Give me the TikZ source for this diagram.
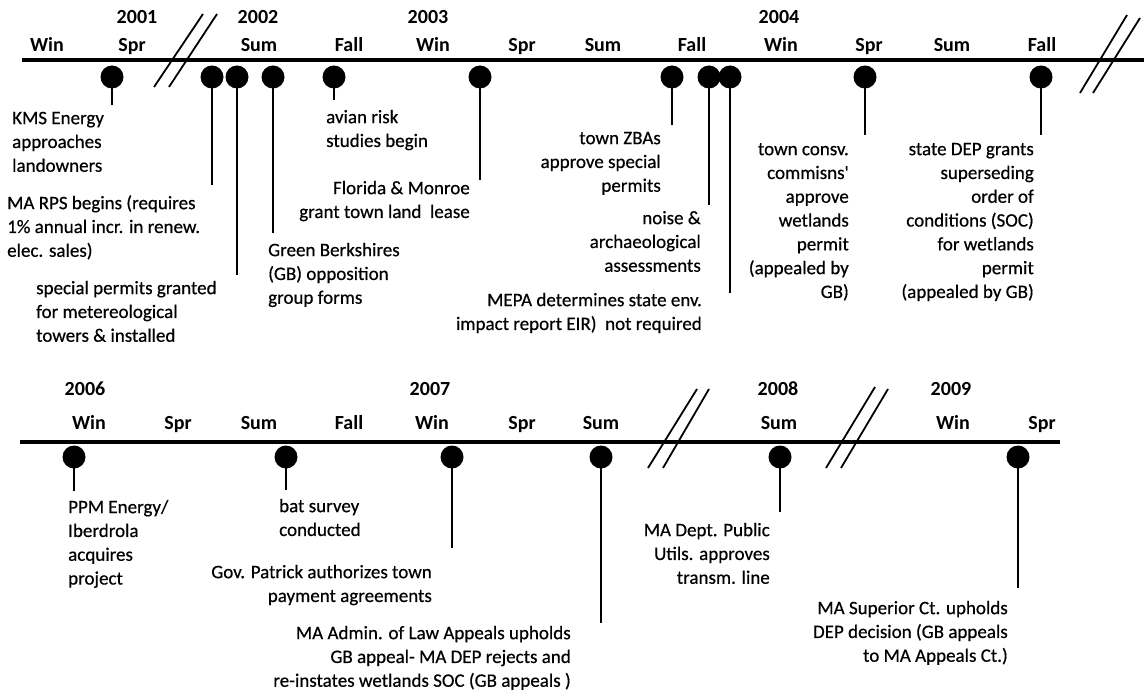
\documentclass[tikz,border=0pt]{standalone}
\usepackage{fontspec}
\setmainfont{Carlito}
\newfontfamily\bodyfont[FakeBold=0.5]{Carlito}
\begin{document}
\begin{tikzpicture}[x=1pt,y=-1pt,
  axis/.style={line width=4pt},
  brk/.style={line width=1.8pt},
  dot/.style={circle,fill=black,minimum size=23pt,inner sep=0pt},
  stem/.style={line width=2pt},
  hdr/.style={font=\bfseries\fontsize{20}{24}\selectfont,anchor=base,inner sep=0pt},
  lbl/.style={font=\bodyfont\fontsize{19}{23.8}\selectfont,inner sep=0pt},
  lblL/.style={lbl,align=left,anchor=north west},
  lblR/.style={lbl,align=right,anchor=north east},
]
\def\off{10.7}
\def\hb{6.4}
\useasboundingbox[fill=white] (0,0) rectangle (1144,698);

% ---------------- top timeline ----------------
\coordinate (ta) at (22,60);
\coordinate (tb) at (1144,60);
\draw[axis] (ta) -- (tb);

% break marks
\coordinate (k1a) at (154,87); \coordinate (k1b) at (203,14);
\coordinate (k2a) at (169,87); \coordinate (k2b) at (217,14);
\coordinate (k3a) at (1080,93); \coordinate (k3b) at (1127,15);
\coordinate (k4a) at (1093,93); \coordinate (k4b) at (1140,18);
\draw[brk] (k1a) -- (k1b);
\draw[brk] (k2a) -- (k2b);
\draw[brk] (k3a) -- (k3b);
\draw[brk] (k4a) -- (k4b);

% years
\node[hdr] (y2001) at (137,{17+\hb}) {2001};
\node[hdr] (y2002) at (258,{17+\hb}) {2002};
\node[hdr] (y2003) at (428,{17+\hb}) {2003};
\node[hdr] (y2004) at (779,{17+\hb}) {2004};
% seasons
\node[hdr] (s1) at (47,{45+\hb}) {Win};
\node[hdr] (s2) at (132,{45+\hb}) {Spr};
\node[hdr] (s3) at (259,{45+\hb}) {Sum};
\node[hdr] (s4) at (349,{45+\hb}) {Fall};
\node[hdr] (s5) at (433,{45+\hb}) {Win};
\node[hdr] (s6) at (522,{45+\hb}) {Spr};
\node[hdr] (s7) at (603,{45+\hb}) {Sum};
\node[hdr] (s8) at (692,{45+\hb}) {Fall};
\node[hdr] (s9) at (781,{45+\hb}) {Win};
\node[hdr] (s10) at (869,{45+\hb}) {Spr};
\node[hdr] (s11) at (952,{45+\hb}) {Sum};
\node[hdr] (s12) at (1042,{45+\hb}) {Fall};

% dots
\node[dot] (d1) at (112,77) {};
\node[dot] (d2) at (212,77) {};
\node[dot] (d3) at (237,77) {};
\node[dot] (d4) at (273,77) {};
\node[dot] (d5) at (334,77) {};
\node[dot] (d6) at (480,77) {};
\node[dot] (d7) at (672,77) {};
\node[dot] (d8) at (709,77) {};
\node[dot] (d9) at (730,77) {};
\node[dot] (d10) at (865,77) {};
\node[dot] (d11) at (1041,77) {};

% stem ends
\coordinate (e1) at (112,105);
\coordinate (e2) at (212,185);
\coordinate (e3) at (237,275);
\coordinate (e4) at (273,233);
\coordinate (e5) at (334,100);
\coordinate (e6) at (480,180);
\coordinate (e7) at (672,125);
\coordinate (e8) at (709,205);
\coordinate (e9) at (730,293);
\coordinate (e10) at (865,135);
\coordinate (e11) at (1041,135);
\foreach \i in {1,...,11} {\draw[stem] (d\i.center) -- (e\i);}

% labels
\node[lblL] (t1) at (12,{118-\off}) {\strut KMS Energy\\approaches\\landowners};
\node[lblL] (t2) at (7,{203-\off}) {\strut MA RPS begins (requires\\1\% annual incr. in renew.\\elec. sales)};
\node[lblL] (t3) at (36,{288-\off}) {\strut special permits granted\\for metereological\\towers \& installed};
\node[lblL] (t4) at (268,{250-\off}) {\strut Green Berkshires\\(GB) opposition\\group forms};
\node[lblL] (t5) at (326,{117-\off}) {\strut avian risk\\studies begin};
\node[lblR] (t6) at (470,{188-\off}) {\strut Florida \& Monroe\\grant town land\ \ lease};
\node[lblR] (t7) at (661,{138-\off}) {\strut town ZBAs\\approve special\\permits};
\node[lblR] (t8) at (701,{218-\off}) {\strut noise \&\\archaeological\\assessments};
\node[lblR] (t9) at (702,{300-\off}) {\strut MEPA determines state env.\\impact report EIR)\ \ not required};
\node[lblR] (t10) at (849,{149-\off}) {\strut town consv.\\commisns\textquotesingle\\approve\\wetlands\\permit\\(appealed by\\GB)};
\node[lblR] (t11) at (1034,{149-\off}) {\strut state DEP grants\\superseding\\order of\\conditions (SOC)\\for wetlands\\permit\\(appealed by GB)};

% ---------------- bottom timeline ----------------
\coordinate (ba) at (20,442);
\coordinate (bb) at (1060,442);
\draw[axis] (ba) -- (bb);

\coordinate (k5a) at (648,468); \coordinate (k5b) at (697,389);
\coordinate (k6a) at (663,468); \coordinate (k6b) at (709,389);
\coordinate (k7a) at (826,468); \coordinate (k7b) at (875,387);
\coordinate (k8a) at (841,468); \coordinate (k8b) at (888,389);
\draw[brk] (k5a) -- (k5b);
\draw[brk] (k6a) -- (k6b);
\draw[brk] (k7a) -- (k7b);
\draw[brk] (k8a) -- (k8b);

\node[hdr] (y2006) at (85,{389+\hb}) {2006};
\node[hdr] (y2007) at (430,{389+\hb}) {2007};
\node[hdr] (y2008) at (778,{389+\hb}) {2008};
\node[hdr] (y2009) at (951,{389+\hb}) {2009};

\node[hdr] (u1) at (89,{423+\hb}) {Win};
\node[hdr] (u2) at (178,{423+\hb}) {Spr};
\node[hdr] (u3) at (259,{423+\hb}) {Sum};
\node[hdr] (u4) at (349,{423+\hb}) {Fall};
\node[hdr] (u5) at (432,{423+\hb}) {Win};
\node[hdr] (u6) at (522,{423+\hb}) {Spr};
\node[hdr] (u7) at (601,{423+\hb}) {Sum};
\node[hdr] (u8) at (779,{423+\hb}) {Sum};
\node[hdr] (u9) at (953,{423+\hb}) {Win};
\node[hdr] (u10) at (1042,{423+\hb}) {Spr};

\node[dot] (b1) at (74,457) {};
\node[dot] (b2) at (286,457) {};
\node[dot] (b3) at (452,457) {};
\node[dot] (b4) at (601,457) {};
\node[dot] (b5) at (780,457) {};
\node[dot] (b6) at (1018,457) {};

\coordinate (f1) at (74,491);
\coordinate (f2) at (286,490);
\coordinate (f3) at (452,548);
\coordinate (f4) at (601,623);
\coordinate (f5) at (780,512);
\coordinate (f6) at (1018,588);
\foreach \i in {1,...,6} {\draw[stem] (b\i.center) -- (f\i);}

\node[lblL] (v1) at (68,{507-\off}) {\strut PPM Energy/\\Iberdrola\\acquires\\project};
\node[lblL] (v2) at (279,{506-\off}) {\strut bat survey\\conducted};
\node[lblR] (v3) at (432,{572-\off}) {\strut Gov. Patrick authorizes town\\payment agreements};
\node[lblR] (v4) at (571,{633-\off}) {\strut MA Admin. of Law Appeals upholds\\GB appeal- MA DEP rejects and\\re-instates wetlands SOC (GB appeals )};
\node[lblR] (v5) at (770,{530-\off}) {\strut MA Dept. Public\\Utils. approves\\transm. line};
\node[lblR] (v6) at (1008,{608-\off}) {\strut MA Superior Ct. upholds\\DEP decision (GB appeals\\to MA Appeals Ct.)};
\end{tikzpicture}
\end{document}
